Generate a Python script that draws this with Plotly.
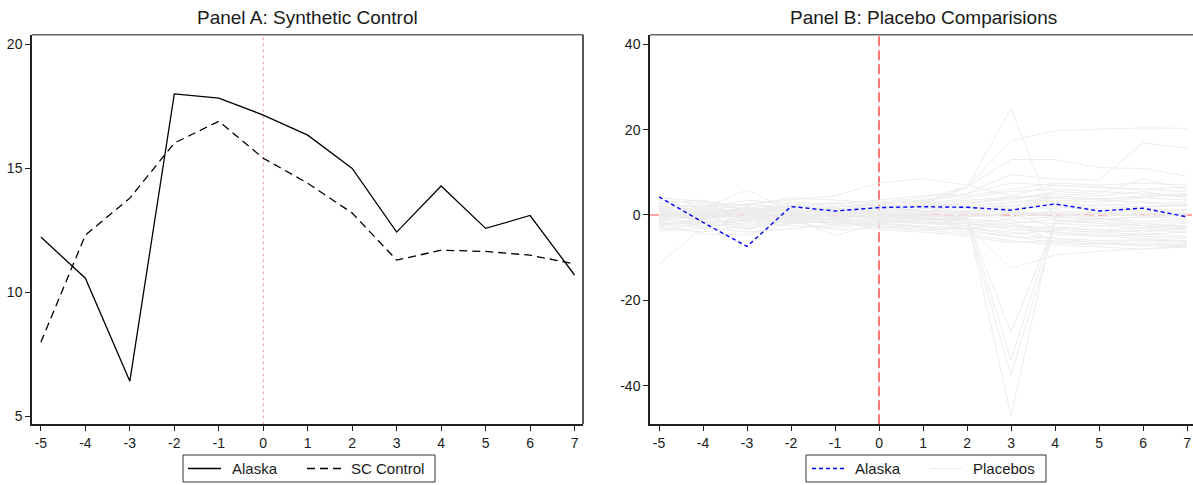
import plotly.graph_objects as go

# Event time (years relative to treatment)
years = [-5, -4, -3, -2, -1, 0, 1, 2, 3, 4, 5, 6, 7]
year_labels = ["-5", "-4", "-3", "-2", "-1", "0", "1", "2", "3", "4", "5", "6", "7"]

# Panel A: treated unit and its synthetic control
alaska = [12.23, 10.57, 6.42, 18.0, 17.83, 17.15, 16.34, 15.0, 12.43, 14.29, 12.58, 13.1, 10.7]
sc_control = [7.99, 12.31, 13.8, 16.02, 16.9, 15.41, 14.4, 13.2, 11.3, 11.7, 11.65, 11.5, 11.15]
a_ticks = [5, 10, 15, 20]

# Panel B: gap for Alaska (treated minus synthetic)
alaska_gap = [a - s for a, s in zip(alaska, sc_control)]
b_ticks = [-40, -20, 0, 20, 40]

# Panel B: gaps for the placebo (donor) units
placebos = [
    [1.2, 0.5, -0.8, 1.0, 0.6, 2.0, 3.0, 6.5, 25.0, -1.5, -1.0, -0.5, -0.8],
    [0.8, 1.5, 0.2, -0.5, 0.3, 1.0, 2.5, 6.5, 17.5, 19.7, 20.1, 20.4, 20.3],
    [-0.5, 0.8, 1.5, 0.5, 1.8, 3.0, 4.0, 6.6, 13.0, 13.0, 11.1, 10.9, 9.1],
    [0.3, -1.0, 0.5, 1.5, 2.0, 2.5, 3.5, 5.0, 9.5, 8.4, 8.2, 16.9, 15.6],
    [2.0, 1.0, 2.5, 3.5, 4.5, 7.5, 8.5, 7.0, 4.5, 7.0, 6.5, 6.0, 5.5],
    [1.5, 1.5, 5.9, 1.0, 0.5, 1.5, 2.0, 3.0, 3.5, 5.5, 5.0, 8.5, 6.0],
    [-11.5, -3.0, -1.0, 0.5, -0.5, 0.0, -1.0, -2.0, -3.5, -4.0, -4.5, -5.0, -5.5],
    [0.5, -0.5, 0.0, -0.8, 0.2, -0.5, -1.0, -1.0, -27.5, -2.0, -2.5, -3.0, -2.5],
    [-1.0, 0.5, -0.5, 0.3, -0.2, 0.5, 0.0, -0.5, -34.0, -1.5, -1.0, -2.0, -1.5],
    [0.2, -1.2, 0.8, -0.3, 0.5, -0.8, -0.5, -1.5, -37.5, -3.0, -3.5, -4.0, -3.0],
    [-0.8, 0.3, -1.5, 0.8, -0.4, 0.3, -0.2, -0.8, -47.0, -0.5, -1.0, -0.5, 0.0],
    [0.0, -0.5, 0.5, -1.0, 0.8, -1.0, -1.5, -2.5, -12.5, -9.4, -8.5, -8.0, -7.5],
    [3.5, 2.5, 1.5, 3.0, 2.5, 3.5, 4.5, 5.0, 7.5, 7.0, 6.5, 6.0, 6.5],
    [-3.5, -2.0, -1.5, -2.5, -3.0, -2.0, -2.5, -3.5, -5.0, -6.5, -7.0, -6.5, -7.0],
    [2.5, 3.5, 1.0, 2.0, 1.5, 1.0, 2.0, 2.5, 4.0, 5.0, 4.5, 5.5, 4.0],
    [-2.5, -1.5, -3.5, -1.0, -2.0, -1.5, -2.0, -2.0, -3.0, -4.0, -5.0, -5.5, -6.0],
    [1.0, 0.0, 1.0, 2.5, 1.0, 0.5, 1.5, 2.0, 3.0, 3.5, 3.0, 4.0, 3.5],
    [-1.5, -2.5, -2.0, -0.5, -1.0, -2.5, -3.0, -4.0, -5.0, -5.5, -6.5, -7.0, -7.5],
    [0.5, 1.0, -1.0, 0.0, 1.5, 1.0, 0.5, 1.0, 2.0, 2.5, 1.5, 2.0, 2.5],
    [-2.0, -3.0, -1.0, -2.0, -1.5, -1.0, -1.5, -3.0, -4.5, -3.5, -4.0, -3.5, -4.0],
    [1.8, 2.0, 2.5, 1.5, 3.0, 2.0, 2.5, 4.0, 5.5, 6.0, 5.5, 5.0, 4.5],
    [-0.3, 0.0, -0.5, -1.5, -0.8, -0.3, -0.8, -1.0, -1.5, -2.0, -1.5, -2.5, -2.0],
    [3.0, 1.5, 3.5, 2.5, 2.0, 1.5, 1.0, 0.5, 1.0, 0.0, 0.5, 1.0, 0.5],
    [-3.0, -4.0, -2.5, -1.5, -3.5, -3.0, -3.5, -4.5, -6.0, -7.0, -7.5, -8.0, -7.0],
    [0.0, 0.8, 0.3, 1.2, 0.0, 0.8, 1.0, 1.5, 2.5, 3.0, 2.0, 3.0, 2.0],
    [-1.2, -0.3, -2.5, -0.5, -2.5, -1.8, -1.0, -1.5, -2.5, -3.0, -3.5, -3.0, -3.5],
    [2.2, 0.5, 1.8, 0.8, 1.2, 2.5, 3.5, 4.5, 6.0, 7.5, 7.0, 7.5, 7.0],
    [-2.8, -1.0, 0.5, -0.2, 0.5, -0.5, 0.5, 0.0, -1.0, -0.5, -0.8, -1.5, -1.0],
    [1.0, 2.5, 0.0, 1.5, -0.5, 0.0, -0.5, 0.5, -0.5, 1.0, 0.5, 0.0, 1.5],
    [-1.8, -2.0, -3.0, -2.0, -1.0, -3.5, -4.0, -5.0, -6.5, -6.0, -6.5, -6.0, -6.5],
    [0.7, -0.8, 2.0, -1.2, 1.0, 0.2, 0.8, 2.5, 4.5, 4.0, 3.5, 4.5, 5.0],
    [-0.6, 1.2, -1.2, 0.6, -1.2, -0.8, -2.0, -2.5, -2.0, -4.5, -5.0, -4.5, -5.0],
    [2.8, 1.8, 0.8, 1.8, 2.8, 0.5, 0.0, -1.0, -2.0, -1.0, -2.0, -2.5, -3.0],
    [-2.2, -0.8, -0.2, 0.2, -1.8, 1.5, 1.0, 0.8, 1.5, 2.0, 1.0, 1.5, 1.0],
    [1.3, 3.0, 1.2, 2.2, 0.8, -1.2, -1.2, -0.5, 0.5, -3.0, -2.5, -2.0, -2.8],
    [-1.0, -1.8, -0.8, -1.8, 0.8, 1.8, 2.2, 3.5, 4.0, 4.5, 3.8, 4.2, 4.8],
    [0.3, 0.2, -3.2, -0.8, -0.3, -2.2, -2.8, -3.0, -4.0, -5.5, -6.0, -5.8, -6.2],
    [-3.8, -3.0, -4.0, -3.2, -2.2, -1.2, -0.5, -0.2, 0.5, 0.0, -0.5, 0.5, 0.0],
    [4.0, 3.2, 2.2, 4.0, 3.5, 2.8, 3.2, 2.0, 3.0, 4.0, 3.5, 3.0, 2.8],
    [-1.5, 0.3, 1.5, -1.2, -0.8, 0.5, 1.5, 1.8, 2.0, 1.5, 2.5, 1.8, 2.2],
    [-2.0, -4.5, -4.7, -2.0, -1.5, -2.8, -3.5, -3.0, -2.5, -3.5, -4.0, -4.5, -4.0],
    [0.5, -1.5, -1.0, -0.5, -4.8, -2.0, -1.5, -2.0, -1.0, -6.5, -6.8, -7.2, -6.8],
    [-0.2, 0.4, -0.3, 0.2, 0.1, -0.2, 0.2, 0.3, 0.2, -0.3, 0.1, -0.2, 0.3],
    [0.6, -0.2, 0.4, -0.4, 0.3, 0.4, -0.3, -0.2, 0.6, 0.4, -0.4, 0.5, -0.5],
    [-0.4, 0.1, 0.6, 0.3, -0.6, 0.1, 0.4, 0.5, -0.4, 0.6, 0.3, -0.3, 0.4],
]

W, H = 1193, 485
FONT = "Liberation Sans, Arial, Helvetica, sans-serif"
TXT = "#1a1a1a"

# Pixel geometry of the two plot regions
A_L, A_R = 32, 583
B_L, B_R = 650, 1193
TOP, BOT = 34.7, 424.3


def px(x):
    return x / W


def py(y):
    return 1 - y / H


fig = go.Figure()

# ---- Panel A ----
fig.add_trace(go.Scatter(
    x=years, y=alaska, mode="lines", name="Alaska",
    line=dict(color="black", width=1.3), xaxis="x", yaxis="y",
))
fig.add_trace(go.Scatter(
    x=years, y=sc_control, mode="lines", name="SC Control",
    line=dict(color="black", width=1.3, dash="8px,5px"), xaxis="x", yaxis="y",
))

# ---- Panel B ----
for series in placebos:
    fig.add_trace(go.Scatter(
        x=years, y=series, mode="lines", name="Placebos",
        line=dict(color="#ececec", width=1), xaxis="x2", yaxis="y2",
    ))
fig.add_trace(go.Scatter(
    x=years, y=alaska_gap, mode="lines", name="Alaska",
    line=dict(color="#0000ff", width=1.4, dash="4px,3px"), xaxis="x2", yaxis="y2",
))

axis_common = dict(
    showgrid=False, zeroline=False, showline=True, linecolor="#222",
    linewidth=1.5, ticks="outside", ticklen=5, tickcolor="#222",
    tickwidth=1, tickfont=dict(family=FONT, size=14, color=TXT),
)

fig.update_layout(
    width=W, height=H,
    margin=dict(l=0, r=0, t=0, b=0),
    paper_bgcolor="white", plot_bgcolor="white",
    font=dict(family=FONT, color=TXT),
    showlegend=False,
    xaxis=dict(domain=[px(A_L), px(A_R)], range=[-5.2, 7.19],
               tickvals=years, ticktext=year_labels, anchor="y", **axis_common),
    yaxis=dict(domain=[py(BOT), py(TOP)], range=[4.68, 20.39],
               tickvals=a_ticks, ticktext=[str(v) for v in a_ticks],
               anchor="x", **axis_common),
    xaxis2=dict(domain=[px(B_L), px(B_R)], range=[-5.205, 7.136],
                tickvals=years, ticktext=year_labels, anchor="y2", **axis_common),
    yaxis2=dict(domain=[py(BOT), py(TOP)], range=[-49.05, 42.25],
                tickvals=b_ticks, ticktext=[str(v) for v in b_ticks],
                anchor="x2", **axis_common),
)

# Reference lines
fig.add_shape(type="line", xref="x", yref="paper", x0=0, x1=0,
              y0=py(BOT), y1=py(TOP + 2), layer="below",
              line=dict(color="#e8a0a0", width=1, dash="dot"))
fig.add_shape(type="line", xref="x2", yref="paper", x0=0, x1=0,
              y0=py(BOT), y1=py(TOP), layer="below",
              line=dict(color="#ff4d4d", width=1.5, dash="10px,4px"))
fig.add_shape(type="line", xref="paper", yref="y2", x0=px(B_L), x1=1,
              y0=0, y1=0, layer="below",
              line=dict(color="#ff4d4d", width=1.2, dash="10px,4px"))

# Plot-region outlines (top and right edges)
fig.add_shape(type="line", xref="paper", yref="paper",
              x0=px(A_L), x1=px(A_R), y0=py(TOP), y1=py(TOP),
              line=dict(color="#666", width=1.5))
fig.add_shape(type="line", xref="paper", yref="paper",
              x0=px(A_R), x1=px(A_R), y0=py(TOP), y1=py(BOT),
              line=dict(color="#222", width=1.5))
fig.add_shape(type="line", xref="paper", yref="paper",
              x0=px(B_L), x1=1, y0=py(TOP), y1=py(TOP),
              line=dict(color="#666", width=1.5))

# Panel titles
for text, cx in [("Panel A: Synthetic Control", (A_L + A_R) / 2),
                 ("Panel B: Placebo Comparisions", (B_L + 1197) / 2)]:
    fig.add_annotation(text=text, x=px(cx), y=py(18), xref="paper", yref="paper",
                       xanchor="center", yanchor="middle", showarrow=False,
                       font=dict(family=FONT, size=19, color=TXT))

# Legend boxes drawn below each panel
LEG_TOP, LEG_BOT = 455, 482
LEG_MID = (LEG_TOP + LEG_BOT) / 2


def legend_box(x0, x1, entries):
    fig.add_shape(type="rect", xref="paper", yref="paper",
                  x0=px(x0), x1=px(x1), y0=py(LEG_BOT), y1=py(LEG_TOP),
                  line=dict(color="#333", width=1), fillcolor="white")
    for (lx0, lx1, tx, label, style) in entries:
        fig.add_shape(type="line", xref="paper", yref="paper",
                      x0=px(lx0), x1=px(lx1), y0=py(LEG_MID), y1=py(LEG_MID),
                      line=style)
        fig.add_annotation(text=label, x=px(tx), y=py(LEG_MID),
                           xref="paper", yref="paper", xanchor="left",
                           yanchor="middle", showarrow=False,
                           font=dict(family=FONT, size=15, color=TXT))


legend_box(183, 435, [
    (188, 221, 230, "Alaska", dict(color="black", width=1.3)),
    (307, 341, 349, "SC Control", dict(color="black", width=1.3, dash="8px,5px")),
])
legend_box(806, 1046, [
    (812, 844, 853, "Alaska", dict(color="#0000ff", width=1.4, dash="4px,3px")),
    (930, 962, 971, "Placebos", dict(color="#ececec", width=1)),
])

fig.write_html("out.html")
